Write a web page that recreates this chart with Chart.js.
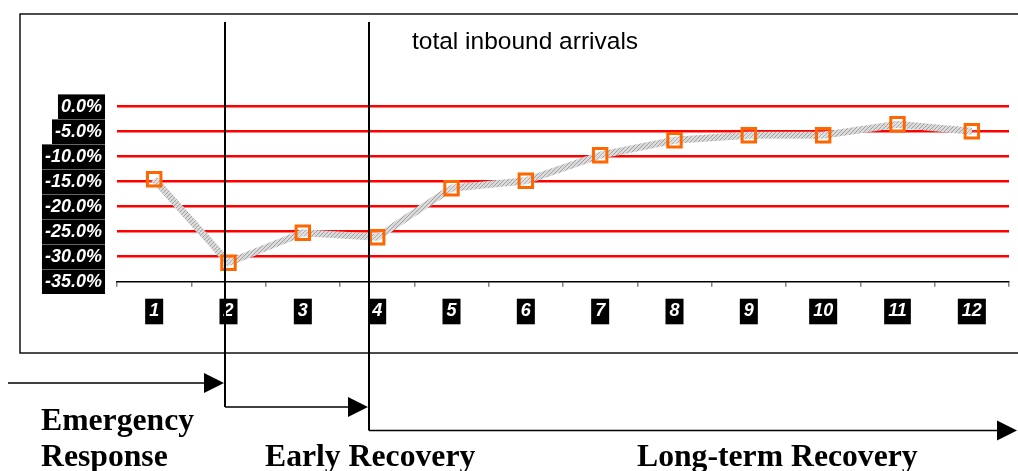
<!DOCTYPE html>
<html>
<head>
<meta charset="utf-8">
<script src="https://cdn.jsdelivr.net/npm/chart.js@4/dist/chart.umd.min.js"></script>
<style>
  html, body { margin: 0; padding: 0; background: #fff; }
  #wrap { width: 1018px; height: 471px; position: relative; }
</style>
</head>
<body>
<div id="wrap"><canvas id="c" width="1018" height="471"></canvas></div>
<script>
// Months after the event and year-on-year change of total inbound arrivals (%)
const months = ['1', '2', '3', '4', '5', '6', '7', '8', '9', '10', '11', '12'];
const arrivalsChange = [-14.5, -31.2, -25.2, -26.1, -16.3, -14.8, -9.7, -6.7, -5.7, -5.7, -3.5, -4.9];
const yMin = -35;
const yMax = 0;
const yStep = 5;
const chartTitle = 'total inbound arrivals';
const phaseNames = [['Emergency', 'Response'], ['Early Recovery'], ['Long-term Recovery']];

// Hatched grey fill used for the series line
function hatchPattern() {
  const p = document.createElement('canvas');
  p.width = 4; p.height = 4;
  const g = p.getContext('2d');
  g.fillStyle = '#dadada';
  g.fillRect(0, 0, 4, 4);
  g.strokeStyle = '#a0a0a0';
  g.lineWidth = 1;
  g.beginPath();
  g.moveTo(0, 4); g.lineTo(4, 0);
  g.stroke();
  return g.createPattern(p, 'repeat');
}

function arrow(ctx, x1, x2, y) {
  const head = 20, half = 10;
  ctx.beginPath();
  ctx.moveTo(x1, y);
  ctx.lineTo(x2 - head + 1, y);
  ctx.stroke();
  ctx.beginPath();
  ctx.moveTo(x2, y);
  ctx.lineTo(x2 - head, y - half);
  ctx.lineTo(x2 - head, y + half);
  ctx.closePath();
  ctx.fill();
}

// Frame, title, phase dividers and phase arrows
const phasesPlugin = {
  id: 'phases',
  beforeDraw(chart) {
    const ctx = chart.ctx;
    ctx.save();
    ctx.fillStyle = '#fff';
    ctx.fillRect(0, 0, chart.width, chart.height);
    ctx.strokeStyle = '#111';
    ctx.lineWidth = 1.5;
    ctx.strokeRect(20, 14, 1010, 339);
    ctx.fillStyle = '#000';
    ctx.font = '24.5px "Liberation Sans", Arial, sans-serif';
    ctx.textBaseline = 'alphabetic';
    ctx.fillText(chartTitle, 412, 49);
    ctx.restore();
  },
  afterDraw(chart) {
    const ctx = chart.ctx;
    ctx.save();
    ctx.strokeStyle = '#000';
    ctx.fillStyle = '#000';
    // dividers between phases
    ctx.lineWidth = 2;
    ctx.beginPath();
    ctx.moveTo(225, 22); ctx.lineTo(225, 407);
    ctx.moveTo(369, 22); ctx.lineTo(369, 430.5);
    ctx.stroke();
    // arrows
    ctx.lineWidth = 1.5;
    arrow(ctx, 8, 224, 383);
    arrow(ctx, 225, 368, 407);
    arrow(ctx, 369, 1017, 430.5);
    // phase names
    ctx.font = 'bold 31.7px "Liberation Serif", "Times New Roman", serif';
    ctx.textBaseline = 'alphabetic';
    ctx.fillText(phaseNames[0][0], 41, 430);
    ctx.fillText(phaseNames[0][1], 41, 466);
    ctx.fillText(phaseNames[1][0], 265, 466);
    ctx.fillText(phaseNames[2][0], 637, 466);
    ctx.restore();
  }
};

const labelFont = { family: '"Liberation Sans", Arial, sans-serif', size: 18, weight: 'bold', style: 'italic' };

new Chart(document.getElementById('c'), {
  type: 'line',
  data: {
    labels: months,
    datasets: [{
      data: arrivalsChange,
      borderColor: hatchPattern(),
      borderWidth: 7,
      tension: 0,
      clip: false,
      pointStyle: 'rect',
      pointRadius: 9.5,
      pointHoverRadius: 9.5,
      pointBorderWidth: 3,
      pointBorderColor: '#ff6600',
      pointBackgroundColor: 'rgba(255,255,255,0.15)'
    }]
  },
  options: {
    responsive: false,
    animation: false,
    events: [],
    layout: { autoPadding: false, padding: { left: 0, right: 9, top: 106.7, bottom: 129.3 } },
    plugins: { legend: { display: false }, tooltip: { enabled: false }, title: { display: false } },
    scales: {
      x: {
        offset: true,
        grid: { offset: true, drawOnChartArea: false, drawTicks: true, tickLength: 5, color: '#808080', lineWidth: 1.5 },
        border: { display: true, color: '#000', width: 1.5 },
        ticks: {
          color: '#fff', font: labelFont, padding: 14, maxRotation: 0, autoSkip: false,
          showLabelBackdrop: true, backdropColor: '#000', backdropPadding: { x: 4, y: 2 }
        },
        afterFit(s) { s.height = 60; }
      },
      y: {
        min: yMin, max: yMax,
        grid: {
          drawTicks: false,
          lineWidth: 2.5,
          color: c => (c.tick && c.tick.value === yMin) ? 'rgba(0,0,0,0)' : '#ff0000'
        },
        border: { display: false },
        ticks: {
          stepSize: yStep, color: '#fff', font: labelFont, padding: 15,
          callback: v => v.toFixed(1) + '%',
          showLabelBackdrop: true, backdropColor: '#000', backdropPadding: { x: 3, y: 1.5 }
        },
        afterFit(s) { s.width = 117; }
      }
    }
  },
  plugins: [phasesPlugin]
});
</script>
</body>
</html>
